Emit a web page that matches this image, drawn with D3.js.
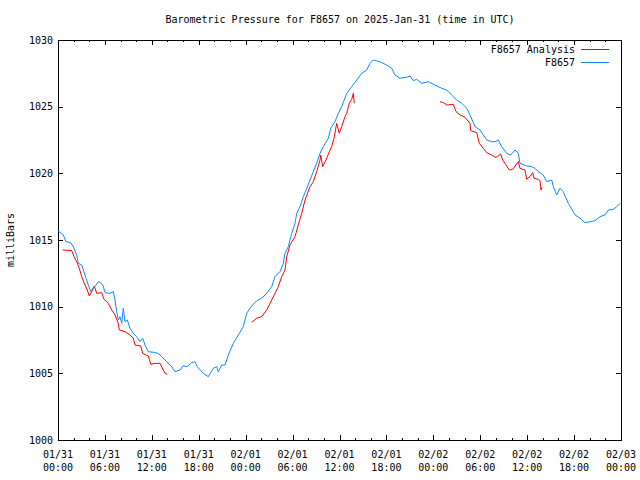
<!DOCTYPE html>
<html><head><meta charset="utf-8">
<script src="https://cdn.jsdelivr.net/npm/d3@7"></script>
<style>
body{margin:0;background:#fff;}
text{font-family:"DejaVu Sans Mono",monospace;font-size:10px;fill:#000;}
</style></head>
<body><svg id="c" width="640" height="480"></svg>
<script>
const title = "Barometric Pressure for F8657 on 2025-Jan-31 (time in UTC)";
const yLabel = "milliBars";
const seriesNames = ["F8657 Analysis", "F8657"];
const startUTC = Date.UTC(2025, 0, 31, 0, 0);
const yTicks = [1000, 1005, 1010, 1015, 1020, 1025, 1030];
const xMajorHours = [0, 6, 12, 18, 24, 30, 36, 42, 48, 54, 60, 66, 72];

// F8657 (blue): hours since 01/31 00:00 UTC, pressure mb
const blueT = [0,0.68,1.02,1.62,1.96,2.39,2.6,3.03,3.24,3.58,3.88,4.18,4.44,4.73,5.15,5.46,5.79,6.01,6.65,7.07,7.29,7.51,7.71,7.93,8.15,8.35,8.57,8.86,9.21,9.63,10.06,10.49,10.83,11.13,11.55,12.19,12.83,13.26,13.9,14.54,14.96,15.6,16.02,16.54,17.1,17.52,17.81,18.58,19.22,19.86,20.3,20.5,20.94,21.36,21.78,22.42,23.06,23.7,24.13,24.46,24.77,25.41,26.05,26.69,27.33,27.75,28.39,28.81,29.03,29.45,29.89,30.31,30.53,30.95,31.37,31.81,32.23,32.65,33.08,33.51,33.93,34.57,34.88,35.42,35.85,36.28,36.92,37.56,38.2,38.84,39.48,39.9,40.32,41.18,42.04,42.68,43.1,43.74,44.59,45.02,45.44,45.87,46.51,47.36,48.21,49.07,49.71,50.35,50.99,51.63,52.27,52.69,53.33,53.97,54.39,54.83,55.46,55.89,56.31,56.74,57.38,57.89,58.44,58.87,59.08,59.94,60.58,61.0,61.42,62.06,62.5,63.14,63.34,63.78,64.2,64.62,65.26,66.12,66.76,67.4,68.04,68.68,69.32,69.96,70.38,71.02,71.45,71.87];
const blueV = [1015.7,1015.38,1014.87,1014.8,1014.5,1013.88,1013.25,1013.13,1012.75,1012.13,1011.63,1011.12,1011.38,1011.5,1011.87,1011.8,1011.55,1011.05,1011.0,1011.12,1010.5,1009.62,1009.0,1009.25,1008.75,1009.88,1008.87,1009.0,1008.38,1008.0,1007.75,1007.37,1007.63,1007.12,1006.62,1006.58,1006.5,1006.25,1005.87,1005.5,1005.12,1005.25,1005.57,1005.5,1005.8,1005.87,1005.5,1005.0,1004.75,1005.38,1005.5,1005.12,1005.62,1005.62,1006.37,1007.25,1007.87,1008.5,1009.5,1009.8,1010.05,1010.45,1010.63,1011.0,1011.5,1012.25,1012.63,1013.25,1014.0,1014.5,1015.5,1016.25,1017.0,1017.5,1018.25,1018.88,1019.5,1020.12,1020.75,1021.5,1022.0,1022.63,1023.38,1023.87,1024.5,1025.0,1026.0,1026.5,1027.0,1027.5,1027.75,1028.25,1028.5,1028.37,1028.12,1027.88,1027.37,1027.13,1027.2,1027.3,1026.95,1027.05,1026.75,1026.87,1026.62,1026.38,1026.25,1025.87,1025.5,1025.25,1024.88,1024.38,1023.5,1023.25,1022.88,1022.5,1022.37,1022.37,1022.5,1022.0,1021.5,1021.37,1021.75,1021.5,1020.75,1020.55,1020.5,1020.38,1020.12,1019.88,1019.37,1019.5,1019.0,1018.38,1018.88,1018.62,1017.75,1016.88,1016.63,1016.3,1016.37,1016.45,1016.75,1016.88,1017.25,1017.3,1017.5,1017.75];

// F8657 Analysis (red): null marks a gap
const redT = [0.6,1.75,2.05,2.39,2.72,3.03,3.45,3.75,4.0,4.31,4.64,4.95,5.59,5.88,6.43,6.87,7.29,7.71,7.84,8.57,9.21,9.63,9.85,10.58,10.83,11.55,11.86,12.41,13.04,13.68,13.98,null,
  24.77,25.41,26.05,26.69,27.33,27.75,28.17,28.61,29.03,29.25,29.67,30.31,30.73,31.17,31.59,32.23,32.65,33.08,33.51,33.6,33.85,34.27,34.7,35.0,35.3,35.64,35.97,36.28,36.7,36.92,37.25,37.56,37.77,37.89,null,
  48.85,49.28,49.71,50.55,50.9,51.41,52.05,52.69,52.78,53.55,53.88,54.39,54.83,55.46,55.89,56.18,56.62,56.87,57.29,57.72,58.15,58.87,59.08,59.72,59.94,60.36,60.71,60.87,61.42,61.64,61.77,61.9];
const redV = [1014.25,1014.2,1013.75,1013.37,1012.88,1012.25,1011.63,1011.25,1010.8,1011.12,1011.55,1011.0,1011.05,1010.55,1010.25,1009.75,1009.38,1008.75,1008.25,1008.12,1007.88,1007.63,1007.12,1007.05,1006.5,1006.3,1005.68,1005.75,1005.75,1005.0,1004.93,null,
  1008.83,1009.13,1009.25,1009.75,1010.5,1011.0,1011.5,1012.25,1012.75,1013.75,1014.63,1015.25,1016.13,1017.0,1018.0,1019.0,1019.37,1020.12,1021.0,1021.37,1020.5,1021.0,1021.62,1022.0,1022.63,1023.75,1023.0,1023.5,1024.25,1024.5,1025.25,1025.55,1026.0,1025.25,null,
  1025.37,1025.3,1025.12,1025.18,1024.63,1024.38,1024.2,1023.75,1023.2,1023.05,1022.25,1021.88,1021.55,1021.37,1021.2,1021.25,1021.45,1021.0,1020.63,1020.25,1020.3,1020.88,1020.37,1020.25,1019.55,1019.75,1020.05,1019.63,1019.55,1019.45,1018.75,1018.95];

const colors = ["#ff0000", "#1088ff"];

const svg = d3.select("#c");
const L = 58, R = 621, T = 40, B = 440;
const toDate = h => new Date(startUTC + h * 3600e3);
const x = d3.scaleUtc().domain([toDate(0), toDate(72)]).range([L, R]);
const y = d3.scaleLinear().domain([1000, 1030]).range([B, T]);

const g = svg.append("g").attr("shape-rendering", "crispEdges");
const majorDates = xMajorHours.map(toDate);
const minorDates = d3.range(0, 73, 2).filter(h => h % 6 !== 0).map(toDate);

function xTicks(len, dates) {
  g.append("g").attr("transform", `translate(0,${B})`)
    .call(d3.axisBottom(x).tickValues(dates).tickSize(-len).tickFormat(""))
    .call(a => a.select(".domain").remove());
  g.append("g").attr("transform", `translate(0,${T})`)
    .call(d3.axisTop(x).tickValues(dates).tickSize(-len).tickFormat(""))
    .call(a => a.select(".domain").remove());
}
xTicks(5, majorDates);
xTicks(2, minorDates);
g.append("g").attr("transform", `translate(${L},0)`)
  .call(d3.axisLeft(y).tickValues(yTicks).tickSize(-5).tickFormat(""))
  .call(a => a.select(".domain").remove());
g.append("g").attr("transform", `translate(${R},0)`)
  .call(d3.axisRight(y).tickValues(yTicks).tickSize(-5).tickFormat(""))
  .call(a => a.select(".domain").remove());
g.selectAll(".tick line").attr("stroke", "#000");

svg.append("g").selectAll("text").data(yTicks).join("text")
  .attr("x", L - 5).attr("y", d => y(d)).attr("dy", "0.35em")
  .attr("text-anchor", "end").text(d => d);
const fmtD = d3.utcFormat("%m/%d"), fmtT = d3.utcFormat("%H:%M");
const xl = svg.append("g").selectAll("g").data(majorDates).join("g")
  .attr("transform", d => `translate(${x(d)},0)`);
xl.append("text").attr("y", 458).attr("text-anchor", "middle").text(d => fmtD(d));
xl.append("text").attr("y", 470.5).attr("text-anchor", "middle").text(d => fmtT(d));

svg.append("text").attr("x", 340).attr("y", 23).attr("text-anchor", "middle").text(title);
svg.append("text").attr("transform", "translate(14,240) rotate(-90)")
  .attr("text-anchor", "middle").text(yLabel);

const line = d3.line().defined(d => d[1] !== null).x(d => x(toDate(d[0]))).y(d => y(d[1]));
const redData = redT.map((t, i) => [t, redV[i]]);
const blueData = blueT.map((t, i) => [t, blueV[i]]);
svg.append("path").datum(redData).attr("d", line).attr("fill", "none")
  .attr("stroke", colors[0]).attr("stroke-width", 1);
svg.append("path").datum(blueData).attr("d", line).attr("fill", "none")
  .attr("stroke", colors[1]).attr("stroke-width", 1);

g.append("rect").attr("x", L + 0.5).attr("y", T + 0.5).attr("width", R - L).attr("height", B - T)
  .attr("fill", "none").attr("stroke", "#000");

const leg = svg.append("g");
seriesNames.forEach((n, i) => {
  const ly = 49.5 + i * 13;
  leg.append("text").attr("x", 575).attr("y", ly).attr("dy", "0.35em").attr("text-anchor", "end").text(n);
  leg.append("line").attr("x1", 581).attr("x2", 609).attr("y1", ly).attr("y2", ly)
    .attr("stroke", colors[i]).attr("shape-rendering", "crispEdges");
});
</script></body></html>
